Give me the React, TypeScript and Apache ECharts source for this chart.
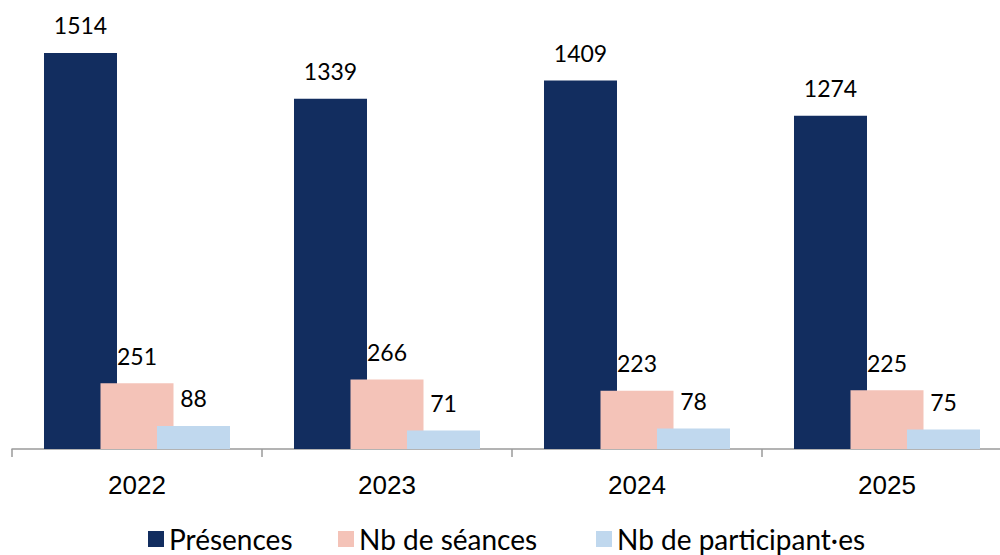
import React, { useEffect, useRef } from "react";
import * as echarts from "echarts";

const categories = ["2022", "2023", "2024", "2025"];
const presences = [1514, 1339, 1409, 1274];
const seances = [251, 266, 223, 225];
const participants = [88, 71, 78, 75];
const seriesNames = ["Présences", "Nb de séances", "Nb de participant·es"];

export default function App() {
  const ref = useRef<HTMLDivElement>(null);
  useEffect(() => {
    if (!ref.current) return;
    const chart = echarts.init(ref.current, undefined, { renderer: "svg" });
    const label = {
      show: true,
      position: "top" as const,
      distance: 16,
      fontFamily: "Lato",
      fontWeight: "normal" as const,
      fontSize: 23,
      color: "#000",
    };
    const legendLefts = [148, 338, 596];
    chart.setOption({
      animation: false,
      grid: { left: 12, width: 1000, top: 30.5, height: 418.5 },
      xAxis: {
        type: "category",
        data: categories,
        axisLine: { lineStyle: { color: "#9a9a9a", width: 1.5 } },
        axisTick: { show: true, length: 8, lineStyle: { color: "#9a9a9a", width: 1.5 } },
        axisLabel: {
          fontFamily: "Liberation Sans",
          fontWeight: "normal",
          fontSize: 26,
          color: "#000",
          margin: 23,
        },
      },
      yAxis: {
        type: "value",
        min: 0,
        max: 1600,
        show: false,
        splitLine: { show: false },
      },
      legend: seriesNames.map((n, i) => ({
        top: 525,
        left: legendLefts[i],
        padding: 0,
        icon: "rect",
        itemWidth: 16,
        itemHeight: 16,
        itemGap: 6,
        textStyle: { fontFamily: "Lato", fontWeight: "normal", fontSize: 28, lineHeight: 28, color: "#000" },
        data: [n],
      })),
      series: [
        {
          name: seriesNames[0],
          type: "bar",
          data: presences,
          barWidth: 73,
          barGap: "-22.6%",
          itemStyle: { color: "#122D5F" },
          label,
        },
        {
          name: seriesNames[1],
          type: "bar",
          data: seances,
          barWidth: 73,
          barGap: "-22.6%",
          itemStyle: { color: "#F4C3B8" },
          label,
        },
        {
          name: seriesNames[2],
          type: "bar",
          data: participants,
          barWidth: 73,
          barGap: "-22.6%",
          itemStyle: { color: "#C0D8EE" },
          label,
        },
      ],
    });
    return () => chart.dispose();
  }, []);
  return (
    <div style={{ width: 1000, height: 555, position: "absolute", left: 0, top: 0, overflow: "hidden" }}>
      <div ref={ref} style={{ width: 1012, height: 555 }} />
    </div>
  );
}
